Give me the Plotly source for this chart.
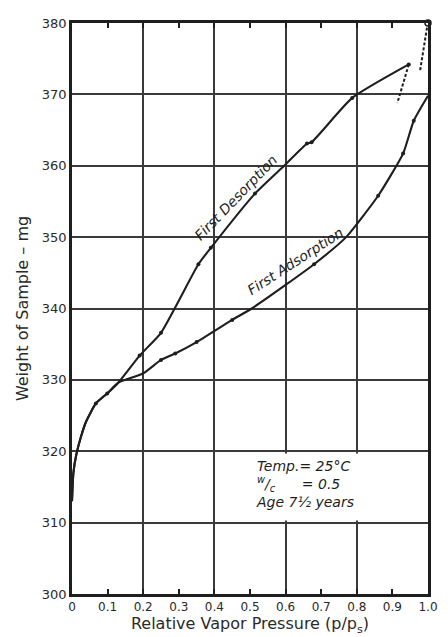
import plotly.graph_objects as go

# Shared low-pressure branch of the isotherm (p/ps, weight mg)
common_x = [0.0, 0.004, 0.012, 0.025, 0.04, 0.067, 0.099, 0.13]
common_y = [313.0, 317.0, 319.5, 322.0, 324.2, 326.7, 328.1, 329.6]

# First desorption branch (continues from the shared branch)
des_x = [0.19, 0.25, 0.355, 0.39, 0.514, 0.596, 0.66, 0.673, 0.787, 0.946]
des_y = [333.4, 336.6, 346.2, 348.5, 356.1, 360.0, 363.1, 363.3, 369.5, 374.2]
des_pts_x = [0.067, 0.099, 0.19, 0.25, 0.355, 0.39, 0.514, 0.66, 0.673, 0.787, 0.946]
des_pts_y = [326.7, 328.1, 333.4, 336.6, 346.2, 348.5, 356.1, 363.1, 363.3, 369.5, 374.2]

# First adsorption branch (continues from the shared branch)
ads_x = [0.2, 0.25, 0.29, 0.35, 0.45, 0.505, 0.6, 0.68, 0.77, 0.86, 0.93, 0.96, 1.0]
ads_y = [330.9, 332.8, 333.7, 335.3, 338.4, 340.0, 343.3, 346.2, 350.0, 355.8, 361.7, 366.3, 369.8]
ads_pts_x = [0.25, 0.29, 0.35, 0.45, 0.68, 0.86, 0.93, 0.96]
ads_pts_y = [332.8, 333.7, 335.3, 338.4, 346.2, 355.8, 361.7, 366.3]

# Dashed extensions near saturation
dash1_x = [0.946, 0.914]
dash1_y = [374.2, 368.8]
dash2_x = [0.978, 1.0]
dash2_y = [373.4, 380.2]
sat_x = [1.0]
sat_y = [380.0]

x_ticks = [0.0, 0.1, 0.2, 0.3, 0.4, 0.5, 0.6, 0.7, 0.8, 0.9, 1.0]
x_labels = ["0", "0.1", "0.2", "0.3", "0.4", "0.5", "0.6", "0.7", "0.8", "0.9", "1.0"]
x_grid = [0.2, 0.4, 0.6, 0.8]
y_ticks = [300, 310, 320, 330, 340, 350, 360, 370, 380]

INK = "#1e1e1e"
GRID = "#3a3a3a"
FONT = "DejaVu Sans"

fig = go.Figure()

line_style = dict(color=INK, width=2.1)
fig.add_trace(go.Scatter(x=common_x + des_x, y=common_y + des_y, mode="lines",
                         line=dict(shape="spline", smoothing=0.5, **line_style)))
fig.add_trace(go.Scatter(x=common_x + ads_x, y=common_y + ads_y, mode="lines",
                         line=dict(shape="spline", smoothing=0.5, **line_style)))
fig.add_trace(go.Scatter(x=des_pts_x, y=des_pts_y, mode="markers", marker=dict(size=4, color=INK)))
fig.add_trace(go.Scatter(x=ads_pts_x, y=ads_pts_y, mode="markers", marker=dict(size=4, color=INK)))
for dx, dy in ((dash1_x, dash1_y), (dash2_x, dash2_y)):
    fig.add_trace(go.Scatter(x=dx, y=dy, mode="lines", line=dict(color=INK, width=2, dash="3px,2px")))
fig.add_trace(go.Scatter(x=sat_x, y=sat_y, mode="markers", cliponaxis=False,
                         marker=dict(size=6, color="white", line=dict(color=INK, width=1.5))))

# white panel behind the conditions note
fig.add_shape(type="rect", xref="x", yref="y", x0=0.45, x1=0.993, y0=310.3, y1=319.7,
              fillcolor="white", line=dict(width=0), layer="between")

fig.add_annotation(x=0.462, y=355.6, text="<i>First Desorption</i>", showarrow=False,
                   textangle=-46, font=dict(family=FONT, size=14, color=INK))
fig.add_annotation(x=0.628, y=346.6, text="<i>First Adsorption</i>", showarrow=False,
                   textangle=-33, font=dict(family=FONT, size=14, color=INK))
fig.add_annotation(x=0.51, y=319.4, xanchor="left", yanchor="top", align="left", showarrow=False,
                   text="<i>Temp.= 25°C<br><sup>w</sup>/<sub>c</sub>      = 0.5<br>Age 7½ years</i>",
                   font=dict(family=FONT, size=14, color=INK))

fig.update_layout(
    width=448, height=637,
    margin=dict(l=72, r=10, t=23, b=38),
    paper_bgcolor="white", plot_bgcolor="white",
    showlegend=False,
    font=dict(family=FONT, color="#2a2a2a"),
    xaxis=dict(
        range=[0, 1], tickmode="array", tickvals=x_ticks, ticktext=x_labels,
        showgrid=False, zeroline=False, ticks="inside", ticklen=5, tickwidth=1.5, tickcolor=INK,
        tickfont=dict(size=12),
        showline=True, linecolor=INK, linewidth=2.5, mirror="allticks",
        minor=dict(tickmode="array", tickvals=x_grid, showgrid=True,
                   gridcolor=GRID, gridwidth=1.6, ticks=""),
        title=dict(text="Relative Vapor Pressure (p/p<sub>s</sub>)", font=dict(size=16), standoff=2),
    ),
    yaxis=dict(
        range=[300, 380], tickmode="array", tickvals=y_ticks,
        showgrid=True, gridcolor=GRID, gridwidth=1.6, zeroline=False, ticks="",
        tickfont=dict(size=13),
        showline=True, linecolor=INK, linewidth=2.5, mirror=True,
        title=dict(text="Weight of Sample – mg", font=dict(size=16), standoff=10),
    ),
)

fig.write_html("out.html")
